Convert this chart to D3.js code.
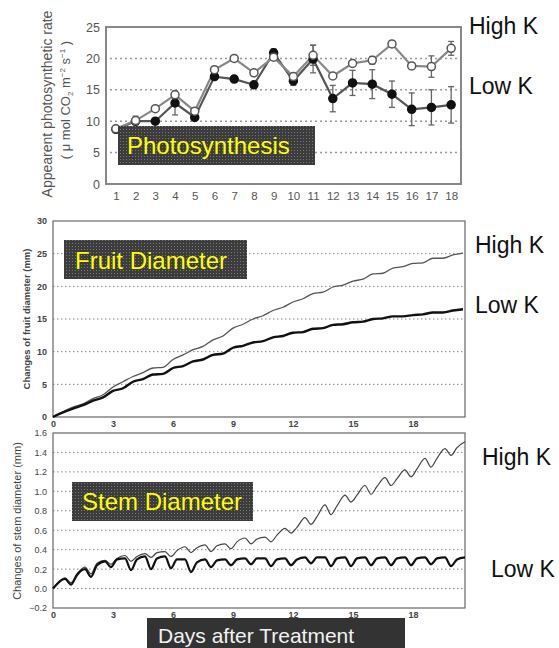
<!DOCTYPE html>
<html><head><meta charset="utf-8">
<script src="https://cdn.jsdelivr.net/npm/d3@7"></script>
<style>body{margin:0;background:#fff}svg{display:block}</style>
</head><body>
<svg id="c" width="559" height="648"></svg>
<script>
// ---------- DATA ----------
const psDays = [1,2,3,4,5,6,7,8,9,10,11,12,13,14,15,16,17,18];
const psHighK = [8.8,10.1,12.0,14.2,11.6,18.2,20.0,17.7,20.2,17.1,20.5,17.2,19.2,19.7,22.3,18.8,18.7,21.6];
const psLowK  = [8.7,10.0,10.0,12.9,10.6,17.1,16.7,15.8,20.9,16.4,19.9,13.6,16.1,15.9,14.3,11.9,12.2,12.6];
const psHighErr = [0.2,0.7,0.3,0.5,0.3,0.4,0.3,0.4,0.5,0.4,1.6,0.4,0.4,0.6,0.3,0.5,1.7,1.1];
const psLowErr  = [0.2,0.5,0.4,1.9,0.4,0.3,0.5,0.5,0.6,0.7,2.2,2.1,2.0,2.3,2.1,2.6,2.8,2.9];
const psYTicks = [0,5,10,15,20,25];

const fruitDays = [0,0.5,1,1.5,2,2.5,3,3.5,4,4.5,5,5.5,6,6.5,7,7.5,8,8.5,9,9.5,10,10.5,11,11.5,12,12.5,13,13.5,14,14.5,15,15.5,16,16.5,17,17.5,18,18.5,19,19.5,20,20.5];
const fruitHighK = [0,0.8,1.5,2.0,2.8,3.4,4.6,5.4,6.2,6.8,7.5,7.6,8.8,9.5,10.3,10.8,11.8,12.4,13.6,14.2,15.0,15.5,16.3,16.8,17.6,18.1,18.9,19.1,19.9,20.2,20.8,21.1,21.9,22.0,22.8,23.0,23.5,23.6,24.3,24.3,24.8,25.1];
const fruitLowK  = [0,0.7,1.3,1.8,2.5,3.0,4.0,4.4,5.4,5.8,6.5,6.6,7.5,7.8,8.5,8.8,9.5,9.7,10.6,10.9,11.4,11.6,12.2,12.4,12.9,13.0,13.5,13.6,14.1,14.2,14.5,14.6,15.0,15.1,15.4,15.4,15.6,15.7,16.0,16.0,16.3,16.5];
const fruitYTicks = [0,5,10,15,20,25,30];

const stemDays = [0,0.6,0.9,1.2,1.6,1.9,2.2,2.6,2.9,3.2,3.6,3.9,4.2,4.6,4.9,5.2,5.6,5.9,6.2,6.6,6.9,7.2,7.6,7.9,8.2,8.6,8.9,9.2,9.6,9.9,10.2,10.6,10.9,11.2,11.6,11.9,12.2,12.6,12.9,13.2,13.6,13.9,14.2,14.6,14.9,15.2,15.6,15.9,16.2,16.6,16.9,17.2,17.6,17.9,18.2,18.6,18.9,19.2,19.6,19.9,20.2,20.6];
const stemHighK = [0,0.11,0.06,0.15,0.22,0.15,0.26,0.29,0.25,0.31,0.34,0.28,0.33,0.36,0.32,0.37,0.38,0.33,0.39,0.43,0.37,0.42,0.45,0.38,0.44,0.46,0.41,0.48,0.52,0.46,0.51,0.53,0.48,0.55,0.62,0.57,0.63,0.73,0.66,0.74,0.86,0.76,0.85,0.96,0.89,0.96,1.06,0.97,1.05,1.14,1.06,1.13,1.22,1.15,1.23,1.34,1.25,1.34,1.44,1.37,1.45,1.51];
const stemLowK  = [0,0.10,0.04,0.14,0.20,0.12,0.24,0.28,0.22,0.30,0.31,0.19,0.30,0.33,0.20,0.31,0.33,0.21,0.30,0.30,0.17,0.27,0.30,0.22,0.29,0.30,0.24,0.30,0.31,0.25,0.31,0.31,0.23,0.30,0.31,0.24,0.30,0.32,0.26,0.32,0.32,0.23,0.31,0.32,0.23,0.31,0.32,0.24,0.31,0.32,0.24,0.31,0.32,0.24,0.31,0.32,0.25,0.31,0.32,0.23,0.30,0.32];
const stemYTicks = [-0.2,0,0.2,0.4,0.6,0.8,1.0,1.2,1.4,1.6];
const dayTicks = [0,3,6,9,12,15,18];

// ---------- DRAW ----------
const svg = d3.select("#c");
const font = "'Liberation Sans', Arial, sans-serif";
const defs = svg.append("defs");
const pat = defs.append("pattern").attr("id","dots").attr("width",3).attr("height",3).attr("patternUnits","userSpaceOnUse");
pat.append("rect").attr("width",3).attr("height",3).attr("fill","#3c3c3c");
pat.append("rect").attr("width",1).attr("height",1).attr("fill","#777");

function grid(g, y, vals, x0, x1, col, dash, w){
  g.selectAll(null).data(vals).enter().append("line")
    .attr("x1",x0).attr("x2",x1).attr("y1",d=>y(d)).attr("y2",d=>y(d))
    .attr("stroke",col).attr("stroke-width",w).attr("stroke-dasharray",dash);
}
function styleAxis(g, size, col, weight){
  g.select(".domain").remove();
  g.selectAll("line").remove();
  g.selectAll("text").attr("font-family",font).attr("font-size",size).attr("fill",col).attr("font-weight",weight);
}

// ===== Panel 1: Photosynthesis =====
{
  const x = d3.scaleLinear().domain([0.5,18.5]).range([106,461]);
  const y = d3.scaleLinear().domain([0,25]).range([184,27]);
  const g = svg.append("g");
  grid(g, y, [5,10,15,20], x.range()[0]+4, x.range()[1], "#999", "2,3", 1.5);
  g.append("rect").attr("x",106).attr("y",27).attr("width",355).attr("height",157)
    .attr("fill","none").attr("stroke","#888").attr("stroke-width",2);
  const ya = g.append("g").attr("transform","translate(104,0)").call(d3.axisLeft(y).tickValues(psYTicks).tickSize(0).tickPadding(4));
  styleAxis(ya, 12.5, "#555", "normal");
  const xa = g.append("g").attr("transform","translate(0,190)").call(d3.axisBottom(x).tickValues(psDays).tickSize(0).tickPadding(2));
  styleAxis(xa, 11.5, "#555", "normal");
  g.append("text").attr("transform","translate(52,104) rotate(-90)").attr("text-anchor","middle")
    .attr("font-family",font).attr("font-size",14).attr("fill","#555").text("Appearent photosynthetic rate");
  const t2 = g.append("text").attr("transform","translate(70,100) rotate(-90)").attr("text-anchor","middle")
    .attr("font-family",font).attr("font-size",13).attr("fill","#555");
  t2.append("tspan").text("( μ mol CO");
  t2.append("tspan").attr("font-size",8).attr("dy",3).text("2");
  t2.append("tspan").attr("dy",-3).text(" m");
  t2.append("tspan").attr("font-size",8).attr("dy",-5).text("−2");
  t2.append("tspan").attr("dy",5).text(" s");
  t2.append("tspan").attr("font-size",8).attr("dy",-5).text("−1");
  t2.append("tspan").attr("dy",5).text(" )");

  const series = [
    {v:psLowK, e:psLowErr, fill:"#111", stroke:"#111", line:"#555"},
    {v:psHighK, e:psHighErr, fill:"#fff", stroke:"#555", line:"#888"}
  ];
  series.forEach(s=>{
    const eg = g.append("g").attr("stroke","#666").attr("stroke-width",1.3);
    psDays.forEach((d,i)=>{
      eg.append("line").attr("x1",x(d)).attr("x2",x(d)).attr("y1",y(s.v[i]-s.e[i])).attr("y2",y(s.v[i]+s.e[i]));
      [s.v[i]-s.e[i], s.v[i]+s.e[i]].forEach(v=>eg.append("line").attr("x1",x(d)-3).attr("x2",x(d)+3).attr("y1",y(v)).attr("y2",y(v)));
    });
  });
  series.forEach(s=>{
    g.append("path").datum(psDays.map((d,i)=>[d,s.v[i]]))
      .attr("d", d3.line().x(p=>x(p[0])).y(p=>y(p[1])))
      .attr("fill","none").attr("stroke",s.line).attr("stroke-width",2.2);
  });
  series.forEach(s=>{
    g.selectAll(null).data(psDays).enter().append("circle")
      .attr("cx",d=>x(d)).attr("cy",(d,i)=>y(s.v[i])).attr("r",4)
      .attr("fill",s.fill).attr("stroke",s.stroke).attr("stroke-width",1.5);
  });
  g.append("rect").attr("x",118).attr("y",126).attr("width",197).attr("height",39).attr("fill","url(#dots)");
  g.append("text").attr("x",127).attr("y",154).attr("font-family",font).attr("font-size",24).attr("fill","#ffff00").text("Photosynthesis");
}

// ===== Panel 2: Fruit diameter =====
const xd = d3.scaleLinear().domain([0,20.6]).range([53,465]);
{
  const y = d3.scaleLinear().domain([0,30]).range([417,221]);
  const g = svg.append("g");
  grid(g, y, [5,10,15,20,25], 53, 465, "#888", "1.5,2.5", 1);
  g.append("rect").attr("x",53).attr("y",221).attr("width",412).attr("height",196)
    .attr("fill","none").attr("stroke","#666").attr("stroke-width",1.2);
  const ya = g.append("g").attr("transform","translate(50,0)").call(d3.axisLeft(y).tickValues(fruitYTicks).tickSize(0).tickPadding(3));
  styleAxis(ya, 9, "#444", "bold");
  const xa = g.append("g").attr("transform","translate(0,419)").call(d3.axisBottom(xd).tickValues(dayTicks).tickSize(0).tickPadding(2));
  styleAxis(xa, 9, "#444", "bold");
  g.append("text").attr("transform","translate(30,319) rotate(-90)").attr("text-anchor","middle")
    .attr("font-family",font).attr("font-size",9.5).attr("font-weight","bold").attr("fill","#444").text("Changes of fruit diameter (mm)");
  const line = d3.line().x(p=>xd(p[0])).y(p=>y(p[1])).curve(d3.curveMonotoneX);
  g.append("path").datum(fruitDays.map((d,i)=>[d,fruitHighK[i]])).attr("d",line)
    .attr("fill","none").attr("stroke","#555").attr("stroke-width",1.3);
  g.append("path").datum(fruitDays.map((d,i)=>[d,fruitLowK[i]])).attr("d",line)
    .attr("fill","none").attr("stroke","#111").attr("stroke-width",2.4);
  g.append("rect").attr("x",64).attr("y",240).attr("width",183).attr("height",39).attr("fill","url(#dots)");
  g.append("text").attr("x",75).attr("y",269).attr("font-family",font).attr("font-size",24).attr("fill","#ffff00").text("Fruit Diameter");
}

// ===== Panel 3: Stem diameter =====
{
  const y = d3.scaleLinear().domain([-0.2,1.6]).range([608,433]);
  const g = svg.append("g");
  grid(g, y, [0,0.2,0.4,0.6,0.8,1.0,1.2,1.4], 53, 465, "#888", "1.5,2.5", 1);
  g.append("rect").attr("x",53).attr("y",433).attr("width",412).attr("height",175)
    .attr("fill","none").attr("stroke","#666").attr("stroke-width",1.2);
  const ya = g.append("g").attr("transform","translate(50,0)").call(d3.axisLeft(y).tickValues(stemYTicks).tickSize(0).tickPadding(3).tickFormat(d3.format(".1f")));
  styleAxis(ya, 9, "#444", "normal");
  ya.selectAll("text").text(d=>d3.format(".1f")(d).replace("-","−"));
  const xa = g.append("g").attr("transform","translate(0,610)").call(d3.axisBottom(xd).tickValues(dayTicks).tickSize(0).tickPadding(2));
  styleAxis(xa, 9, "#444", "bold");
  g.append("text").attr("transform","translate(21,521) rotate(-90)").attr("text-anchor","middle")
    .attr("font-family",font).attr("font-size",11).attr("fill","#444").text("Changes of stem diameter (mm)");
  const line = d3.line().x(p=>xd(p[0])).y(p=>y(p[1])).curve(d3.curveMonotoneX);
  g.append("path").datum(stemDays.map((d,i)=>[d,stemHighK[i]])).attr("d",line)
    .attr("fill","none").attr("stroke","#444").attr("stroke-width",1.2);
  g.append("path").datum(stemDays.map((d,i)=>[d,stemLowK[i]])).attr("d",line)
    .attr("fill","none").attr("stroke","#111").attr("stroke-width",2.2);
  g.append("rect").attr("x",72).attr("y",482).attr("width",181).attr("height",39).attr("fill","url(#dots)");
  g.append("text").attr("x",82).attr("y",510).attr("font-family",font).attr("font-size",24).attr("fill","#ffff00").text("Stem Diameter");
  g.append("rect").attr("x",147).attr("y",618).attr("width",258).attr("height",30).attr("fill","#333");
  g.append("text").attr("x",158).attr("y",643).attr("font-family",font).attr("font-size",21).attr("fill","#f2f2f2").text("Days after Treatment");
}

// ===== Right-side labels =====
const sideLabels = [
  {t:"High K", x:469, y:34},{t:"Low K", x:469, y:94},
  {t:"High K", x:475, y:253},{t:"Low K", x:475, y:313},
  {t:"High K", x:482, y:465},{t:"Low K", x:491, y:577}
];
svg.selectAll(null).data(sideLabels).enter().append("text")
  .attr("x",d=>d.x).attr("y",d=>d.y).attr("font-family",font).attr("font-size",23).attr("fill","#111").text(d=>d.t);
</script>
</body></html>
